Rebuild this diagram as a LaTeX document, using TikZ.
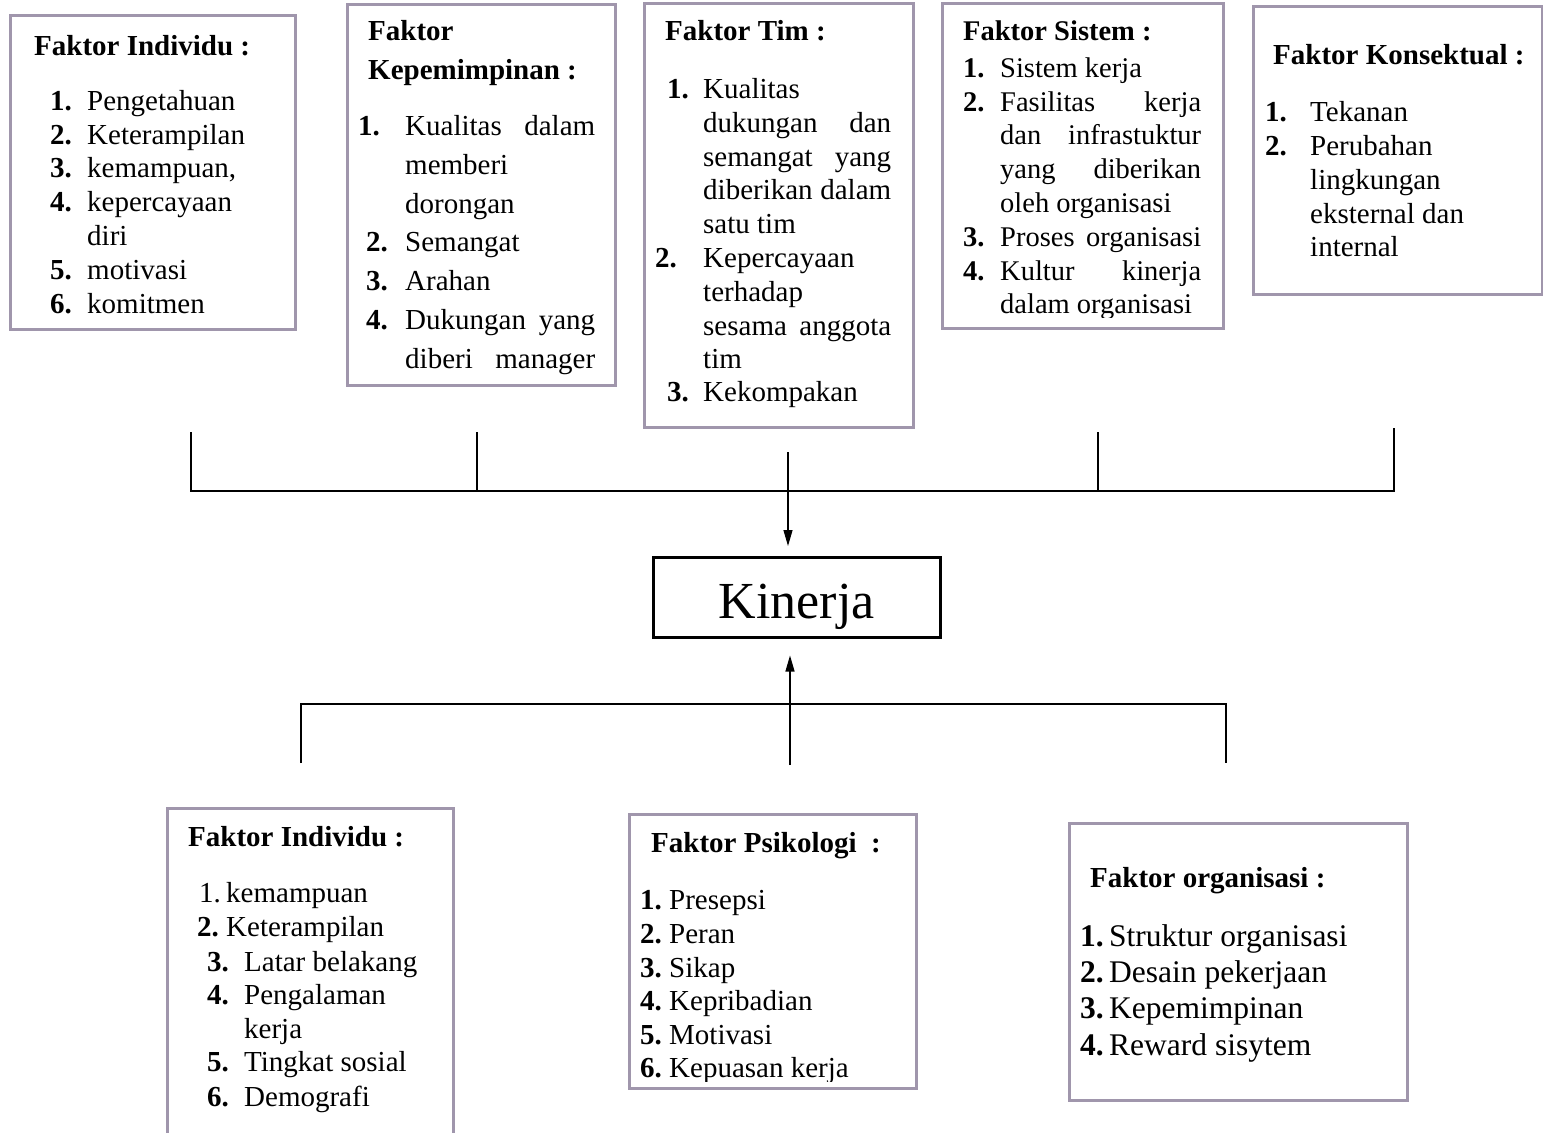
\documentclass[tikz,border=0pt]{standalone}
\usepackage{fontspec}
\setmainfont{Liberation Serif}
\usetikzlibrary{arrows.meta}
\definecolor{boxc}{RGB}{160,150,172}
\newcommand{\fs}[1]{\fontsize{#1}{#1}\selectfont}
\newcounter{lnc}
\newcommand{\putline}[3]{\stepcounter{lnc}\node[txt] (t\arabic{lnc}) at (#1,#2) {#3};}
\newcommand{\jst}[2]{\makebox[#1pt][s]{#2}}
\begin{document}
\begin{tikzpicture}[x=1pt,y=-1pt,
  box/.style={draw=boxc,line width=2.5pt,anchor=north west,inner sep=0pt},
  txt/.style={anchor=base west,inner sep=0pt},
  conn/.style={line width=1.2pt,black},
  arr/.style={conn,-{Triangle[length=16pt,width=9pt]}}]
\useasboundingbox (0,0) rectangle (1543,1133);
\fill[white] (0,0) rectangle (1543,1133);

% ---------- top boxes ----------
\node[box,minimum width=285pt,minimum height=314pt] (b1) at (9,14) {};
\node[box,minimum width=268pt,minimum height=381pt] (b2) at (346,3) {};
\node[box,minimum width=269pt,minimum height=424pt] (b3) at (643,2) {};
\node[box,minimum width=281pt,minimum height=325pt] (b4) at (941,2) {};
\node[box,minimum width=289pt,minimum height=288pt] (b5) at (1252,5) {};

% box 1
\begin{scope}[every node/.append style={font=\fs{29}}]
\putline{34}{55}{\textbf{Faktor Individu :}}
\putline{50}{110}{\textbf{1.}}\putline{87}{110}{Pengetahuan}
\putline{50}{144}{\textbf{2.}}\putline{87}{144}{Keterampilan}
\putline{50}{177}{\textbf{3.}}\putline{87}{177}{kemampuan,}
\putline{50}{211}{\textbf{4.}}\putline{87}{211}{kepercayaan}
\putline{87}{245}{diri}
\putline{50}{279}{\textbf{5.}}\putline{87}{279}{motivasi}
\putline{50}{313}{\textbf{6.}}\putline{87}{313}{komitmen}
\end{scope}

% box 2
\begin{scope}[every node/.append style={font=\fs{29}}]
\putline{368}{40}{\textbf{Faktor}}
\putline{368}{79}{\textbf{Kepemimpinan :}}
\putline{358}{135}{\textbf{1.}}\putline{405}{135}{\jst{190}{Kualitas dalam}}
\putline{405}{174}{memberi}
\putline{405}{213}{dorongan}
\putline{366}{251}{\textbf{2.}}\putline{405}{251}{Semangat}
\putline{366}{290}{\textbf{3.}}\putline{405}{290}{Arahan}
\putline{366}{329}{\textbf{4.}}\putline{405}{329}{\jst{190}{Dukungan yang}}
\putline{405}{368}{\jst{190}{diberi manager}}
\end{scope}

% box 3
\begin{scope}[every node/.append style={font=\fs{29}}]
\putline{665}{40}{\textbf{Faktor Tim :}}
\putline{667}{98}{\textbf{1.}}\putline{703}{98}{Kualitas}
\putline{703}{132}{\jst{188}{dukungan dan}}
\putline{703}{166}{\jst{188}{semangat yang}}
\putline{703}{199}{\jst{188}{diberikan dalam}}
\putline{703}{233}{satu tim}
\putline{655}{267}{\textbf{2.}}\putline{703}{267}{Kepercayaan}
\putline{703}{301}{terhadap}
\putline{703}{335}{\jst{188}{sesama anggota}}
\putline{703}{368}{tim}
\putline{667}{401}{\textbf{3.}}\putline{703}{401}{Kekompakan}
\end{scope}

% box 4
\begin{scope}[every node/.append style={font=\fs{28.5}}]
\clip (941,0) rectangle (1222,317);
\putline{963}{40}{\textbf{Faktor Sistem :}}
\putline{963}{77}{\textbf{1.}}\putline{1000}{77}{Sistem kerja}
\putline{963}{111}{\textbf{2.}}\putline{1000}{111}{\jst{201}{Fasilitas kerja}}
\putline{1000}{144}{\jst{201}{dan infrastuktur}}
\putline{1000}{178}{\jst{201}{yang diberikan}}
\putline{1000}{212}{oleh organisasi}
\putline{963}{246}{\textbf{3.}}\putline{1000}{246}{\jst{201}{Proses organisasi}}
\putline{963}{280}{\textbf{4.}}\putline{1000}{280}{\jst{201}{Kultur kinerja}}
\putline{1000}{313}{dalam organisasi}
\end{scope}

% box 5
\begin{scope}[every node/.append style={font=\fs{29}}]
\putline{1273}{64}{\textbf{Faktor Konsektual :}}
\putline{1265}{121}{\textbf{1.}}\putline{1310}{121}{Tekanan}
\putline{1265}{155}{\textbf{2.}}\putline{1310}{155}{Perubahan}
\putline{1310}{189}{lingkungan}
\putline{1310}{223}{eksternal dan}
\putline{1310}{256}{internal}
\end{scope}

% ---------- top connectors ----------
\coordinate (u1) at (191,432); \coordinate (h1) at (191,491);
\coordinate (u2) at (477,432); \coordinate (h2) at (477,491);
\coordinate (u3) at (788,452); \coordinate (h3) at (788,491);
\coordinate (u4) at (1098,432); \coordinate (h4) at (1098,491);
\coordinate (u5) at (1394,428); \coordinate (h5) at (1394,491);
\draw[conn] (u1) -- (h1) -- (h5) -- (u5);
\draw[conn] (u2) -- (h2);
\draw[conn] (u4) -- (h4);

% ---------- Kinerja ----------
\node[draw=black,line width=2.5pt,anchor=north west,inner sep=0pt,
  minimum width=287pt,minimum height=80pt,font=\fs{52}] (kin) at (652,556) {\raisebox{-21pt}[0pt][0pt]{Kinerja}};
\draw[arr] (u3) -- ([yshift=10pt]kin.north -| u3);

% ---------- bottom connectors ----------
\coordinate (d1) at (301,763); \coordinate (g1) at (301,704);
\coordinate (d2) at (790,765); \coordinate (g2) at (790,704);
\coordinate (d3) at (1226,763); \coordinate (g3) at (1226,704);
\draw[conn] (d1) -- (g1) -- (g3) -- (d3);
\draw[arr] (d2) -- ([yshift=-17pt]kin.south -| d2);

% ---------- bottom boxes ----------
\node[box,minimum width=286pt,minimum height=340pt] (b6) at (166,807) {};
\node[box,minimum width=287pt,minimum height=274pt] (b7) at (628,813) {};
\node[box,minimum width=338pt,minimum height=277pt] (b8) at (1068,822) {};

% box 6
\begin{scope}[every node/.append style={font=\fs{29}}]
\putline{188}{846}{\textbf{Faktor Individu :}}
\putline{199}{902}{1.}\putline{226}{902}{kemampuan}
\putline{197}{936}{\textbf{2.}}\putline{226}{936}{Keterampilan}
\putline{207}{971}{\textbf{3.}}\putline{244}{971}{Latar belakang}
\putline{207}{1004}{\textbf{4.}}\putline{244}{1004}{Pengalaman}
\putline{244}{1038}{kerja}
\putline{207}{1071}{\textbf{5.}}\putline{244}{1071}{Tingkat sosial}
\putline{207}{1106}{\textbf{6.}}\putline{244}{1106}{Demografi}
\end{scope}

% box 7
\begin{scope}[every node/.append style={font=\fs{29}}]
\clip (628,800) rectangle (915,1081);
\putline{651}{852}{\textbf{Faktor Psikologi \ :}}
\putline{640}{909}{\textbf{1.}}\putline{669}{909}{Presepsi}
\putline{640}{943}{\textbf{2.}}\putline{669}{943}{Peran}
\putline{640}{977}{\textbf{3.}}\putline{669}{977}{Sikap}
\putline{640}{1010}{\textbf{4.}}\putline{669}{1010}{Kepribadian}
\putline{640}{1044}{\textbf{5.}}\putline{669}{1044}{Motivasi}
\putline{640}{1077}{\textbf{6.}}\putline{669}{1077}{Kepuasan kerja}
\end{scope}

% box 8
\begin{scope}[every node/.append style={font=\fs{29}}]
\putline{1090}{887}{\textbf{Faktor organisasi :}}
\end{scope}
\begin{scope}[every node/.append style={font=\fs{31.5}}]
\putline{1080}{946}{\textbf{1.}}\putline{1109}{946}{Struktur organisasi}
\putline{1080}{982}{\textbf{2.}}\putline{1109}{982}{Desain pekerjaan}
\putline{1080}{1018}{\textbf{3.}}\putline{1109}{1018}{Kepemimpinan}
\putline{1080}{1055}{\textbf{4.}}\putline{1109}{1055}{Reward sisytem}
\end{scope}
\end{tikzpicture}
\end{document}
